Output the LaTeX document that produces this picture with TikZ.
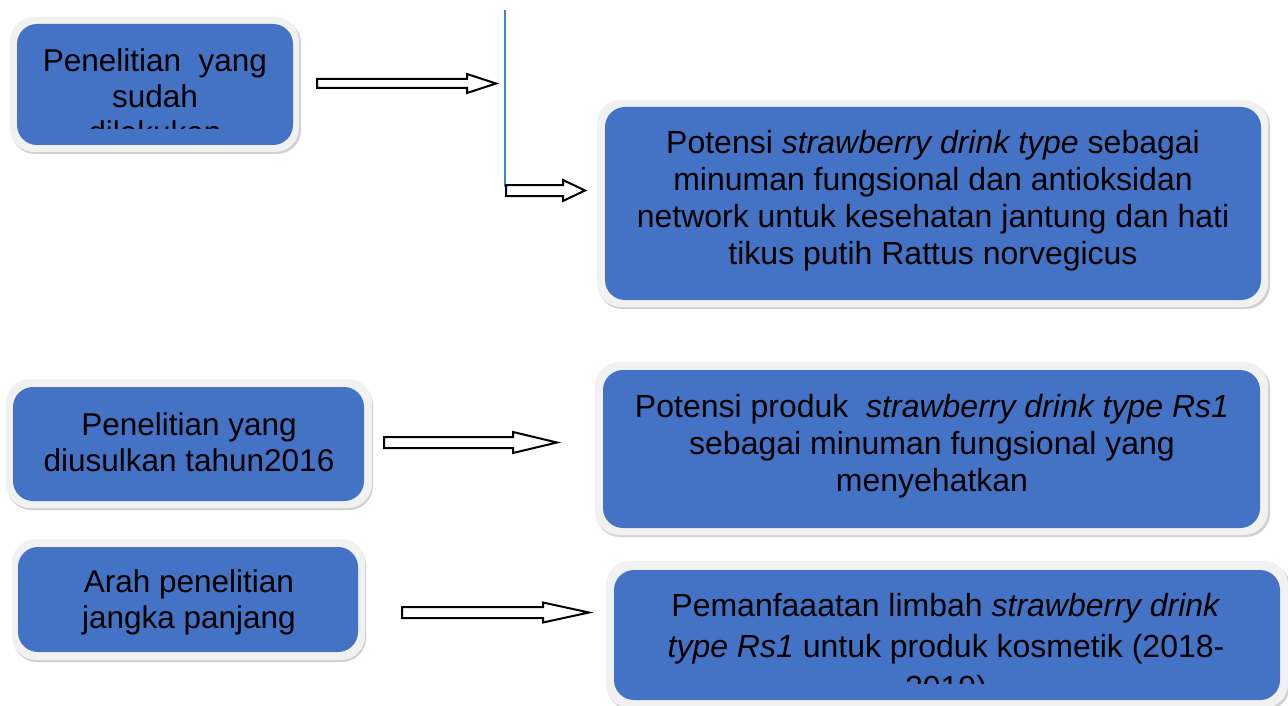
\documentclass[tikz,border=0pt]{standalone}
\usepackage{fontspec}
\setmainfont{Liberation Sans}
\definecolor{boxblue}{HTML}{4472C4}
\definecolor{rimgray}{HTML}{F1F1F1}
\definecolor{shadowgray}{HTML}{D0D0D0}
\definecolor{vlinecol}{HTML}{3D85D8}
\newcommand\blockarr[6]{% x0, xhead, xtip, yc, shaft half, head half
  \draw[barrow] (#1,#4-#5) -- (#2,#4-#5) -- (#2,#4-#6) -- (#3,#4) -- (#2,#4+#6) -- (#2,#4+#5) -- (#1,#4+#5) -- cycle;}
\begin{document}
\begin{tikzpicture}[x=1pt,y=-1pt,
  shadowbox/.style={fill=shadowgray, rounded corners=24pt},
  rim/.style={fill=rimgray, rounded corners=24pt},
  bluebox/.style={fill=boxblue, rounded corners=20pt},
  ltxt/.style={align=center, font=\fontsize{31.5}{36}\selectfont, text=black, inner sep=0pt},
  rtxt/.style={align=center, font=\fontsize{32}{37}\selectfont, text=black, inner sep=0pt},
  barrow/.style={draw=black, line width=2pt, fill=white, line join=miter}]
\useasboundingbox (0,0) rectangle (1288,706);

% ---------- Box 1
\fill[shadowbox] (11,19) rectangle (301,154);
\fill[rim] (10,17) rectangle (299,152);
\fill[bluebox] (17,24) rectangle (293,145);
\begin{scope}
\clip (17,24) rectangle (293,129);
\node[ltxt] (t1) at (155,96) {Penelitian\ \ yang\\sudah\\dilakukan};
\end{scope}

% ---------- Box 2
\fill[shadowbox] (598,102) rectangle (1270,309);
\fill[rim] (597,100) rectangle (1268,307);
\fill[bluebox] (605,107) rectangle (1261,300);
\node[rtxt] (t2) at (933,201) {Potensi \textit{strawberry drink type} sebagai\\minuman fungsional dan antioksidan\\network untuk kesehatan jantung dan hati\\tikus putih Rattus norvegicus};

% ---------- Box 3
\fill[shadowbox] (7,381) rectangle (373,510);
\fill[rim] (6,379) rectangle (372,508);
\fill[bluebox] (13,387) rectangle (364,501);
\node[ltxt] (t3) at (189,442) {Penelitian yang\\diusulkan tahun2016};

% ---------- Box 4
\fill[shadowbox] (596,364) rectangle (1270,537);
\fill[rim] (595,362) rectangle (1268,535);
\fill[bluebox] (603,370) rectangle (1260,528);
\node[rtxt] (t4) at (932,446) {Potensi produk\ \ \textit{strawberry drink type Rs1}\\sebagai minuman fungsional yang\\menyehatkan};

% ---------- Box 5
\fill[shadowbox] (13,541) rectangle (366,662);
\fill[rim] (12,539) rectangle (365,660);
\fill[bluebox] (18,547) rectangle (358,652);
\node[ltxt] (t5) at (189,602) {Arah penelitian\\jangka panjang};

% ---------- Box 6
\fill[shadowbox] (607,563) rectangle (1290,710);
\fill[rim] (606,561) rectangle (1288,708);
\fill[bluebox] (614,570) rectangle (1280,700);
\begin{scope}
\clip (614,570) rectangle (1280,683);
\node[rtxt, font=\fontsize{32}{41}\selectfont] (t6) at (946,649) {Pemanfaaatan limbah \textit{strawberry drink}\\\textit{type Rs1} untuk produk kosmetik (2018-\\2019)};
\end{scope}

% ---------- vertical line
\coordinate (vtop) at (505,10);
\coordinate (vbot) at (505,187);
\draw[draw=vlinecol, line width=1.2pt] (vtop) -- (vbot);

% ---------- block arrows
\blockarr{317}{467}{496}{83.5}{4.5}{9.5}
\blockarr{506}{563}{585}{190.5}{5.5}{10.5}
\blockarr{384}{513}{557}{442.5}{5.5}{10.5}
\blockarr{402}{543}{589}{612.5}{5.5}{10}
\end{tikzpicture}
\end{document}
